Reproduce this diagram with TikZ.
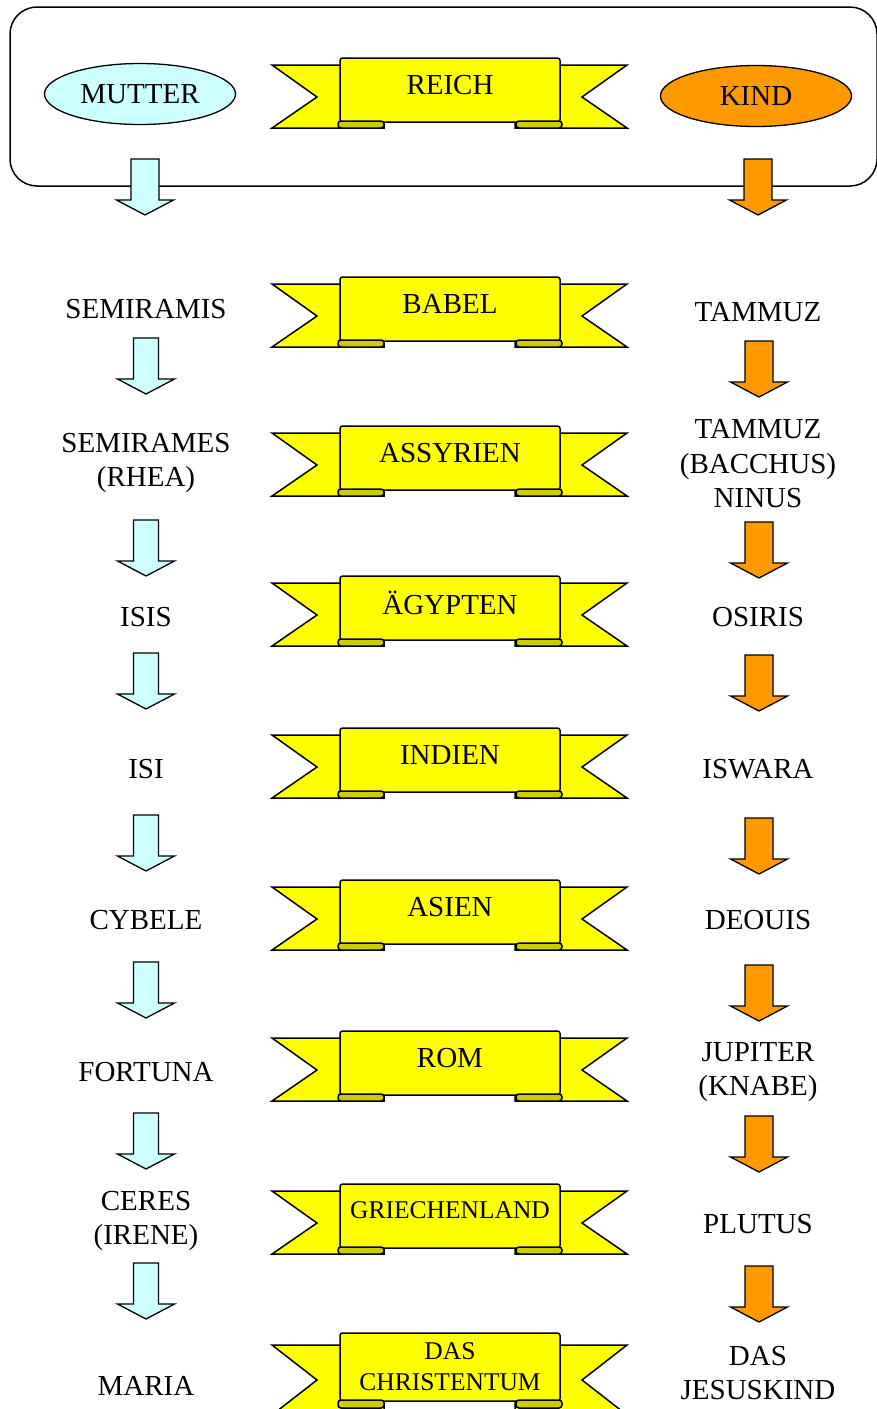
\documentclass[tikz,border=0pt]{standalone}
\usepackage{fontspec}
\setmainfont{Liberation Serif}
\usetikzlibrary{shapes.geometric}
\definecolor{lcyan}{HTML}{CCFFFF}
\definecolor{orng}{HTML}{FF9900}
\definecolor{ylw}{HTML}{FFFF00}
\definecolor{dylw}{HTML}{CCCC00}
\tikzset{
  lbl/.style={inner sep=0pt,align=center,font=\fontsize{29}{34.5}\selectfont},
  ribtext/.style={inner sep=0pt,align=center,font=\fontsize{29}{34.5}\selectfont},
  ribsmall/.style={inner sep=0pt,align=center,font=\fontsize{25.5}{31}\selectfont},
  rib/.style={fill=ylw,draw=black,line width=1.5pt,line join=miter},
  fold/.style={fill=dylw,draw=black,line width=1.5pt,rounded corners=3pt},
  carrow/.style={fill=lcyan,draw=black,line width=1.3pt,line join=miter},
  oarrow/.style={fill=orng,draw=black,line width=1.3pt,line join=miter},
  oval/.style={ellipse,draw=black,line width=1.3pt,minimum width=191pt,minimum height=61pt,inner sep=0pt,font=\fontsize{29}{34.5}\selectfont},
}
\newcommand\blockarrow[4]{%
  \filldraw[#4] ({#1-#3},#2) -- ({#1+#3},#2) -- ({#1+#3},{#2+41}) -- ({#1+28.5},{#2+41})
    -- (#1,{#2+56}) -- ({#1-28.5},{#2+41}) -- ({#1-#3},{#2+41}) -- cycle;}
% #1 top, #2 tail top, #3 notch, #4 tail bottom, #5 band bottom, #6 fold bottom
\newcommand\ribbonshape[6]{%
  \begin{scope}[shift={(0,#1)}]
    \filldraw[rib] (345,#2) -- (272,#2) -- (317,#3) -- (272,#4) -- (384,#4) -- (384,{#5-4}) -- (345,{#5-4}) -- cycle;
    \filldraw[rib] (555,#2) -- (627,#2) -- (582,#3) -- (627,#4) -- (515,#4) -- (515,{#5-4}) -- (555,{#5-4}) -- cycle;
    \filldraw[rib,rounded corners=2.5pt] (340,0) rectangle (560,#5);
    \filldraw[fold] (338,{#5-1}) rectangle (384,#6);
    \filldraw[fold] (516,{#5-1}) rectangle (562,#6);
  \end{scope}}
\newcommand\ribbon[1]{\ribbonshape{#1}{7}{39}{70}{64}{70}}
\begin{document}
\begin{tikzpicture}[x=1pt,y=-1pt]
\useasboundingbox (0,0) rectangle (877,1409);
\clip (0,0) rectangle (877,1409);
% header box
\draw[line width=1.5pt,rounded corners=27pt] (10,7) rectangle (877,186);
\node[oval,fill=lcyan] (mutter) at (140,94) {MUTTER};
\node[oval,fill=orng] (kind) at (756,96) {KIND};
\ribbon{58}
\node[ribtext] (reich) at (450,85) {REICH};
% ribbons
\ribbon{277}
\node[ribtext] (babel) at (450,304) {BABEL};
\ribbon{426}
\node[ribtext] (assyrien) at (450,453) {ASSYRIEN};
\ribbon{576}
\node[ribtext] (aegypten) at (450,603) {ÄGYPTEN};
\ribbon{728}
\node[ribtext] (indien) at (450,755) {INDIEN};
\ribbon{880}
\node[ribtext] (asien) at (450,907) {ASIEN};
\ribbon{1031}
\node[ribtext] (rom) at (450,1058) {ROM};
\ribbon{1184}
\node[ribsmall] (griechenland) at (450,1210) {GRIECHENLAND};
\ribbonshape{1333}{12}{47}{82}{68}{75}
\node[ribsmall] (christentum) at (450,1367) {DAS\\CHRISTENTUM};
% left column
\node[lbl] (semiramis) at (146,309) {SEMIRAMIS};
\node[lbl] (semirames) at (146,463) {SEMIRAMES\\(RHEA)};
\node[lbl] (isis) at (146,617) {ISIS};
\node[lbl] (isi) at (146,769) {ISI};
\node[lbl] (cybele) at (146,920) {CYBELE};
\node[lbl] (fortuna) at (146,1072) {FORTUNA};
\node[lbl] (ceres) at (146,1221) {CERES\\(IRENE)};
\node[lbl] (maria) at (146,1386) {MARIA};
% right column
\node[lbl] (tammuz) at (758,312) {TAMMUZ};
\node[lbl] (tammuzb) at (758,464) {TAMMUZ\\(BACCHUS)\\NINUS};
\node[lbl] (osiris) at (758,617) {OSIRIS};
\node[lbl] (iswara) at (758,769) {ISWARA};
\node[lbl] (deouis) at (758,920) {DEOUIS};
\node[lbl] (jupiter) at (758,1072) {JUPITER\\(KNABE)};
\node[lbl] (plutus) at (758,1224) {PLUTUS};
\node[lbl] (jesuskind) at (758,1373) {DAS\\JESUSKIND};
% arrows left
\blockarrow{145}{159}{14}{carrow}
\blockarrow{146}{338}{12.5}{carrow}
\blockarrow{146}{520}{12.5}{carrow}
\blockarrow{146}{653}{12.5}{carrow}
\blockarrow{146}{815}{12.5}{carrow}
\blockarrow{146}{962}{12.5}{carrow}
\blockarrow{146}{1113}{12.5}{carrow}
\blockarrow{146}{1263}{12.5}{carrow}
% arrows right
\blockarrow{758}{159}{14}{oarrow}
\blockarrow{759}{341}{14}{oarrow}
\blockarrow{759}{522}{14}{oarrow}
\blockarrow{759}{655}{14}{oarrow}
\blockarrow{759}{818}{14}{oarrow}
\blockarrow{759}{965}{14}{oarrow}
\blockarrow{759}{1116}{14}{oarrow}
\blockarrow{759}{1266}{14}{oarrow}
\end{tikzpicture}
\end{document}
